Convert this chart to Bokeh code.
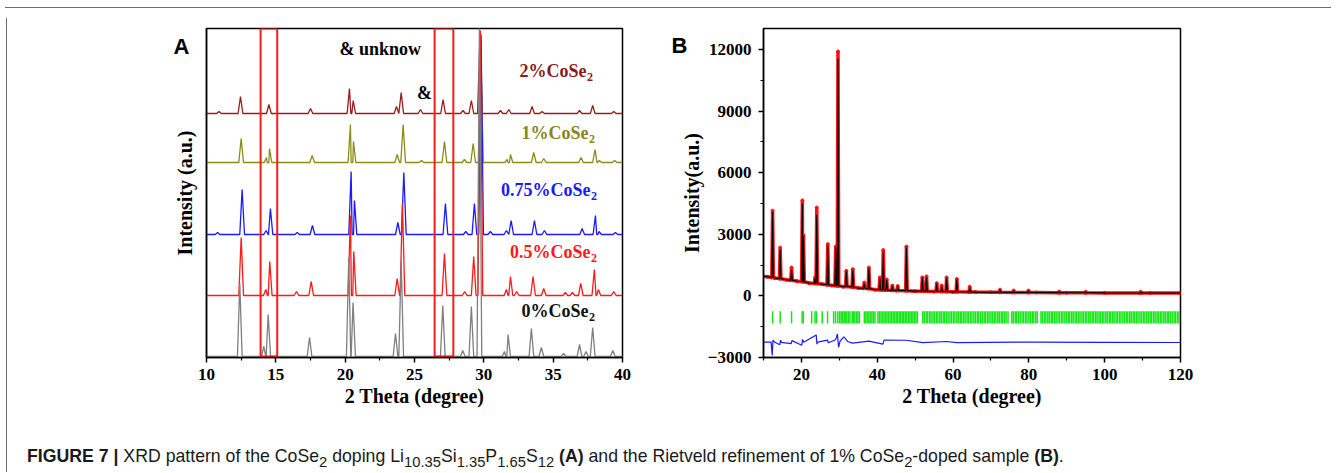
import numpy as np
from bokeh.plotting import figure
from bokeh.models import Label, FixedTicker, Range1d, Div, Spacer
from bokeh.layouts import row, column
from bokeh.embed import file_html
from bokeh.resources import INLINE

SERIF = "Liberation Serif"
SANS = "Liberation Sans"

# ---------------- Panel A data (XRD patterns, stacked) ----------------
a_names = ["2%CoSe", "1%CoSe", "0.75%CoSe", "0.5%CoSe", "0%CoSe"]
a_colors = ["#9b1c1c", "#8c8c1a", "#1a1aff", "#ff1a1a", "#7f7f7f"]
a_text_colors = ["#8b1a1a", "#86861a", "#1a1aff", "#ff1a1a", "#111111"]
a_offsets = [244, 195, 123, 62, 1]

pos_2 = [10.90, 12.45, 14.50, 17.50, 20.31, 20.58, 23.70, 24.04, 25.43, 27.06, 28.50, 29.10, 29.72, 31.20, 31.80, 33.48, 34.20, 36.90, 37.85, 39.37]
h_2 = [2, 17, 9, 5, 25, 13, 7, 21, 4, 14, 3, 13, 77, 3, 4, 7, 2, 3, 8, 2]

pos_1 = [12.50, 14.33, 14.54, 17.62, 20.38, 20.60, 23.75, 24.18, 25.50, 27.16, 28.60, 29.23, 29.78, 31.68, 31.92, 33.60, 34.32, 37.01, 38.02, 38.33, 39.44]
h_1 = [24, 5, 14, 7, 38, 21, 8, 38, 2, 21, 3, 19, 122, 3, 8, 10, 4, 5, 13, 2, 2]

pos_075 = [10.80, 12.57, 14.30, 14.61, 16.54, 17.64, 20.43, 20.67, 23.80, 24.23, 27.23, 28.70, 29.32, 29.80, 30.47, 31.63, 31.97, 33.65, 34.37, 37.09, 38.05, 38.31, 39.49]
h_075 = [2, 45, 4, 26, 2, 9, 63, 34, 12, 62, 31, 3, 31, 200, 3, 4, 14, 14, 4, 6, 19, 3, 2]

pos_05 = [12.50, 14.28, 14.56, 16.49, 17.55, 20.38, 20.62, 23.75, 24.13, 27.16, 28.62, 29.27, 29.75, 31.63, 31.92, 32.37, 33.55, 34.32, 35.88, 36.39, 36.99, 37.97, 38.26, 39.37]
h_05 = [58, 6, 34, 4, 14, 80, 44, 17, 92, 42, 4, 39, 265, 6, 19, 4, 19, 7, 3, 3, 12, 26, 6, 4]

pos_0 = [12.40, 14.13, 14.45, 17.43, 20.26, 20.57, 23.63, 24.04, 27.04, 28.48, 29.10, 29.68, 31.49, 31.75, 33.43, 34.15, 35.75, 36.90, 37.37, 37.85, 39.30]
h_0 = [73, 10, 42, 19, 99, 54, 23, 96, 51, 6, 50, 330, 5, 22, 28, 9, 3, 12, 5, 29, 6]

a_pos = [pos_2, pos_1, pos_075, pos_05, pos_0]
a_h = [h_2, h_1, h_075, h_05, h_0]

# label anchor (right end of "...CoSe") and vertical centre, data units
a_label_x = [37.40, 37.54, 37.69, 37.69, 37.54]
a_label_y = [287, 225, 168, 106, 47]

box_left = [13.9, 26.45]
box_right = [15.1, 27.8]

# ---------------- Panel B data (Rietveld) ----------------
bg_x = [10, 11, 13, 16, 19, 22, 25.5, 28, 31, 35, 39.5, 45, 50, 55, 60, 66, 70, 82, 90, 100, 112, 120]
bg_y = [950, 930, 870, 790, 710, 630, 570, 510, 450, 380, 300, 260, 230, 210, 195, 185, 175, 165, 155, 145, 140, 135]

pk_pos = [12.4, 14.4, 17.4, 20.25, 20.55, 23.6, 24.05, 26.95, 29.05, 29.65, 31.85, 33.55, 36.6, 37.8, 40.7, 41.6, 42.5, 44.0, 45.4, 47.7, 51.9, 53.0, 55.7, 57.0, 58.3, 61.0, 64.4, 72.4, 76.0, 79.9, 88.0, 95.0, 109.5]
pk_base = [900, 840, 760, 700, 690, 610, 600, 540, 500, 490, 460, 430, 370, 355, 300, 290, 285, 270, 265, 255, 235, 230, 220, 215, 210, 200, 190, 175, 170, 165, 158, 150, 140]
pk_obs = [4150, 2350, 1380, 4650, 2950, 900, 4300, 2520, 2400, 11900, 1220, 1300, 650, 1380, 900, 2230, 800, 500, 480, 2400, 900, 950, 620, 500, 900, 820, 450, 300, 260, 260, 210, 200, 200]
pk_calc = [4100, 2250, 1300, 4500, 2900, 850, 3950, 2450, 2350, 11550, 1200, 1250, 600, 1350, 850, 2150, 780, 480, 450, 2350, 880, 920, 600, 480, 860, 800, 430, 290, 250, 250, 205, 195, 190]

diff_x = [10, 12.0, 12.3, 12.5, 13.0, 14.3, 14.5, 14.7, 17.3, 17.5, 20.1, 20.3, 20.6, 23.9, 24.1, 24.3, 26.9, 27.1, 28.9, 29.2, 29.5, 29.8, 30.2, 31.2, 31.6, 32.2, 33.5, 37.8, 41.5, 41.8, 47.7, 52.0, 58.3, 61.0, 80.0, 100.0, 120]
diff_y = [-2250, -2250, -2900, -2150, -2260, -2380, -2150, -2260, -2320, -2180, -2400, -2120, -2260, -1900, -2350, -2250, -2150, -2280, -2150, -2050, -1850, -2500, -2200, -2000, -2080, -2220, -2300, -2200, -2350, -2150, -2160, -2280, -2220, -2280, -2250, -2260, -2270]

bragg = [12.4, 14.4, 17.4, 20.2, 20.5, 22.7, 23.6, 24.0, 25.5, 26.9, 28.5, 29.0, 29.6, 30.1, 30.5, 30.9, 31.3,
         31.7, 32.0, 32.4, 32.8, 33.4, 33.7, 34.1, 34.5, 34.9, 35.3, 36.6, 37.0, 37.4, 37.8, 38.2, 38.6, 39.0,
         39.4, 40.2, 40.6, 41.0, 41.4, 41.8, 42.2, 42.6, 43.0, 43.4, 43.8, 44.2, 44.6, 45.0, 45.4, 45.8, 46.2,
         46.6, 47.0, 47.4, 47.8, 48.2, 48.6, 49.0, 49.4, 49.8, 50.2, 50.6, 52.0, 52.4, 52.9, 53.3, 53.8, 54.2,
         54.7, 55.1, 55.6, 56.0, 56.5, 56.9, 57.4, 57.8, 58.3, 58.7, 59.2, 59.6, 60.1, 60.5, 61.0, 61.4, 61.9,
         62.3, 62.8, 63.2, 63.7, 64.1, 64.6, 65.0, 65.5, 65.9, 66.4, 66.8, 67.3, 67.7, 68.2, 68.6, 69.1, 69.5,
         70.0, 70.4, 70.9, 71.3, 71.8, 72.2, 72.7, 73.1, 73.6, 74.0, 74.5, 75.5, 75.9, 76.4, 76.8, 77.3, 77.7,
         78.2, 78.6, 79.1, 79.5, 80.0, 80.4, 80.9, 81.3, 81.8, 82.2, 83.2, 83.6, 84.1, 84.5, 85.0, 85.4, 85.9,
         86.3, 86.8, 87.2, 87.7, 88.1, 88.6, 89.0, 89.5, 89.9, 90.4, 90.8, 91.3, 91.7, 92.2, 92.6, 93.1, 93.5,
         94.0, 94.4, 94.9, 95.3, 95.8, 96.2, 96.7, 97.1, 97.6, 98.0, 98.5, 98.9, 99.4, 99.8, 100.3, 100.7,
         101.2, 101.6, 102.1, 102.5, 103.0, 103.4, 103.9, 104.3, 104.8, 105.2, 105.7, 106.1, 106.6, 107.0,
         107.5, 107.9, 108.4, 108.8, 109.3, 109.7, 110.2, 110.6, 111.1, 111.5, 112.0, 112.4, 112.9, 113.3,
         113.8, 114.2, 114.7, 115.1, 115.6, 116.0, 116.5, 116.9, 117.4, 117.8, 118.3, 118.7, 119.2, 119.6]

a_xticks = [10, 15, 20, 25, 30, 35, 40]
b_xticks = [20, 40, 60, 80, 100, 120]
b_yticks = [-3000, 0, 3000, 6000, 9000, 12000]

CAPTION = ('<b>FIGURE 7</b> <b>|</b> XRD pattern of the CoSe<sub>2</sub> doping '
           'Li<sub>10.35</sub>Si<sub>1.35</sub>P<sub>1.65</sub>S<sub>12</sub> <b>(A)</b> and the '
           'Rietveld refinement of 1% CoSe<sub>2</sub>-doped sample <b>(B)</b>.')

W_PEAK = 0.17


def stacked_profile(pos, h, base, x0, x1, w):
    pts = [(x0, base), (x1, base)]
    for p, hh in zip(pos, h):
        pts += [(p - w, base), (p, base + hh), (p + w, base)]
    pts.sort(key=lambda t: t[0])
    return [t[0] for t in pts], [t[1] for t in pts]


def rietveld_profile(tops, w=0.2):
    pts = list(zip(bg_x, bg_y))
    for p, b, t in zip(pk_pos, pk_base, tops):
        pts += [(p - w, b), (p, t), (p + w, b)]
    pts.sort(key=lambda t: t[0])
    return [t[0] for t in pts], [t[1] for t in pts]


def style_axes(p):
    for ax in (p.xaxis, p.yaxis):
        ax.axis_line_width = 1.5
        ax.axis_line_color = "black"
        ax.major_tick_line_width = 1.5
        ax.minor_tick_line_width = 1.2
        ax.major_tick_in = 0
        ax.major_tick_out = 5
        ax.minor_tick_in = 0
        ax.minor_tick_out = 3
        ax.major_label_text_font = SERIF
        ax.major_label_text_font_style = "bold"
        ax.major_label_text_font_size = "17px"
        ax.major_label_text_color = "black"
        ax.axis_label_text_font = SERIF
        ax.axis_label_text_font_style = "bold"
        ax.axis_label_text_font_size = "20px"
        ax.axis_label_text_color = "black"
    p.xgrid.visible = False
    p.ygrid.visible = False
    p.outline_line_color = "black"
    p.outline_line_width = 1.5
    p.background_fill_color = "white"
    p.border_fill_color = "white"


# ---------------- Panel A ----------------
pA = figure(width=642, height=405, output_backend="svg", toolbar_location=None,
            x_range=Range1d(10, 40), y_range=Range1d(0, 329),
            min_border_left=194, min_border_right=32, min_border_top=15, min_border_bottom=61)
style_axes(pA)
pA.xaxis.ticker = FixedTicker(ticks=a_xticks, minor_ticks=[12.5, 17.5, 22.5, 27.5, 32.5, 37.5])
pA.yaxis.ticker = FixedTicker(ticks=[])
pA.yaxis.major_tick_out = 0
pA.yaxis.minor_tick_out = 0
pA.yaxis.major_label_standoff = 0
pA.xaxis.major_label_standoff = 6
pA.xaxis.axis_label_standoff = 2
pA.yaxis.axis_label_standoff = 11
pA.xaxis.axis_label = "2 Theta (degree)"
pA.yaxis.axis_label = "Intensity (a.u.)"

for pos, h, base, col in zip(a_pos, a_h, a_offsets, a_colors):
    xs, ys = stacked_profile(pos, h, base, 10, 40, W_PEAK)
    pA.line(xs, ys, line_color=col, line_width=1.3)

pA.quad(left=box_left, right=box_right, bottom=1, top=329, fill_alpha=0,
        line_color="#ff1a1a", line_width=2)

for name, col, lx, ly in zip(a_names, a_text_colors, a_label_x, a_label_y):
    pA.add_layout(Label(x=lx, y=ly, text=name, text_font=SERIF, text_font_style="bold",
                        text_font_size="18px", text_color=col, text_align="right",
                        text_baseline="middle"))
    pA.add_layout(Label(x=lx, y=ly, text="2", text_font=SERIF, text_font_style="bold",
                        text_font_size="12px", text_color=col, text_align="left",
                        text_baseline="middle", x_offset=0.5, y_offset=-6))

pA.add_layout(Label(x=19.59, y=309, text="& unknow", text_font=SERIF, text_font_style="bold",
                    text_font_size="18px", text_color="black", text_align="left",
                    text_baseline="middle"))
pA.add_layout(Label(x=25.72, y=265, text="&", text_font=SERIF, text_font_style="bold",
                    text_font_size="18px", text_color="black", text_align="center",
                    text_baseline="middle"))
# panel letter lives in the side panel so that it is not clipped to the frame
pA.add_layout(Label(x=8.2, y=311.5, text="A", text_font=SANS, text_font_style="bold",
                    text_font_size="22px", text_color="black", text_align="center",
                    text_baseline="middle"), "left")

# ---------------- Panel B ----------------
pB = figure(width=680, height=405, output_backend="svg", toolbar_location=None,
            x_range=Range1d(10, 120), y_range=Range1d(-3000, 13020),
            min_border_left=109, min_border_right=154, min_border_top=15, min_border_bottom=61)
style_axes(pB)
pB.xaxis.ticker = FixedTicker(ticks=b_xticks, minor_ticks=[10, 30, 50, 70, 90, 110])
pB.yaxis.ticker = FixedTicker(ticks=b_yticks, minor_ticks=[-1500, 1500, 4500, 7500, 10500])
pB.xaxis.major_label_standoff = 6
pB.xaxis.axis_label_standoff = 2
pB.yaxis.major_label_standoff = 7
pB.yaxis.axis_label_standoff = 2
pB.xaxis.axis_label = "2 Theta (degree)"
pB.yaxis.axis_label = "Intensity(a.u.)"

ox, oy = rietveld_profile(pk_obs)
cx, cy = rietveld_profile(pk_calc)
pB.line(ox, oy, line_color="#ff1010", line_width=3.5)
pB.scatter(ox, oy, size=3, color="#ff1010", marker="circle")
pB.line(cx, cy, line_color="black", line_width=1.1)
pB.segment(x0=bragg, y0=-750, x1=bragg, y1=-1350, line_color="#19e619", line_width=1.5)
pB.line(diff_x, diff_y, line_color="#1a1aff", line_width=1.2)

pB.add_layout(Label(x=-12.2, y=12168, text="B", text_font=SANS, text_font_style="bold",
                    text_font_size="22px", text_color="black", text_align="center",
                    text_baseline="middle"), "left")

cap = Div(text=('<div style="padding-top:25px; padding-left:10px; line-height:16px; '
                'font-family: Liberation Sans, Arial, sans-serif; font-size:17.7px; '
                'color:#1a1a1a; white-space:nowrap;">' + CAPTION + '</div>'),
          width=1322, height=49)

LINE = "#6e6e6e"
top_line = Div(text="", width=1326, height=1, styles={"background-color": LINE})
left_line = Div(text="", width=1, height=454, styles={"background-color": LINE})

layout = column(Spacer(width=1326, height=2), top_line,
                row(Spacer(width=1, height=454), left_line, column(row(pA, pB), cap)))

open("out.html", "w").write(file_html(layout, INLINE))
